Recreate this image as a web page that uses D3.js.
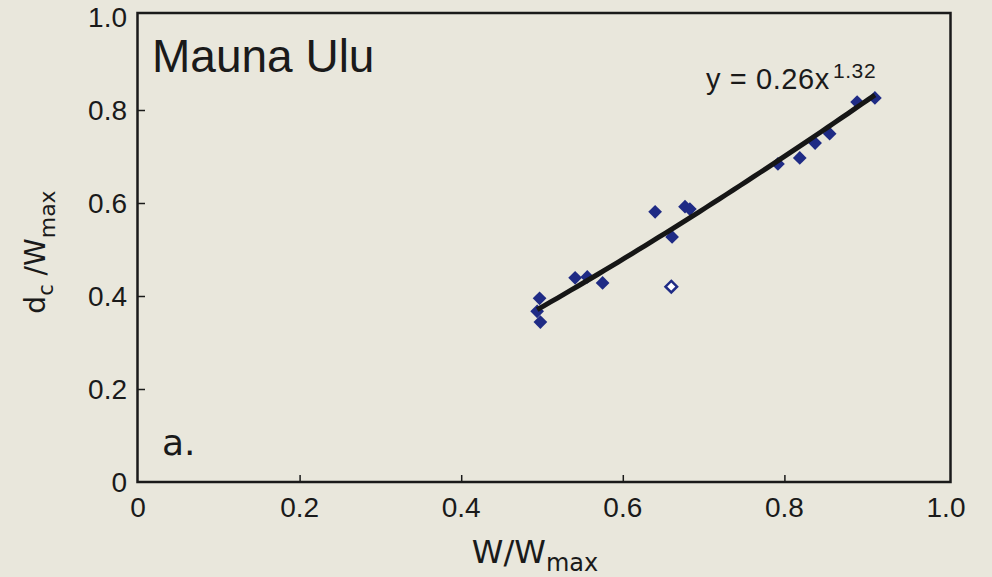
<!DOCTYPE html>
<html>
<head>
<meta charset="utf-8">
<script src="https://cdn.jsdelivr.net/npm/d3@7"></script>
<style>
  body { margin: 0; background: #e9e7dc; }
  text { font-family: "Liberation Sans", Arial, sans-serif; fill: #1a1a1a; }
</style>
</head>
<body>
<script>
var w = 992
var h = 577

// filled points (W/Wmax, dc/Wmax)
var xs = [0.497, 0.494, 0.498, 0.541, 0.556, 0.575, 0.640, 0.661, 0.677, 0.683, 0.792, 0.819, 0.838, 0.856, 0.890, 0.912]
var ys = [0.395, 0.367, 0.344, 0.439, 0.441, 0.428, 0.581, 0.527, 0.592, 0.587, 0.684, 0.697, 0.729, 0.749, 0.817, 0.826]
// open point
var openX = [0.660]
var openY = [0.420]

var tickVals = [0, 0.2, 0.4, 0.6, 0.8, 1.0]
var tickLabels = ["0", "0.2", "0.4", "0.6", "0.8", "1.0"]

// power fit y = a x^b (as drawn)
var fitA = 0.94
var fitB = 1.32

var x = d3.scaleLinear().domain([0, 1]).range([138, 946])
var y = d3.scaleLinear().domain([0, 1]).range([482, 17])

var svg = d3.select("body").append("svg")
    .attr("width", w)
    .attr("height", h)

svg.append("rect")
    .attr("width", w).attr("height", h)
    .attr("fill", "#e9e7dc")

// frame
svg.append("rect")
    .attr("x", x(0) - 0.5)
    .attr("y", y(1) - 4)
    .attr("width", x(1) - x(0) + 5)
    .attr("height", y(0) - y(1) + 4)
    .attr("fill", "none")
    .attr("stroke", "#1a1a1a")
    .attr("stroke-width", 2.5)

// inward ticks
var xAxis = d3.axisTop(x).tickValues(tickVals.slice(1, 5)).tickSize(7).tickFormat("")
svg.append("g").attr("transform", "translate(0," + y(0) + ")").call(xAxis)
    .call(function (g) { g.select(".domain").remove() })
    .selectAll("line").attr("stroke", "#1a1a1a").attr("stroke-width", 1.5)

var yAxis = d3.axisRight(y).tickValues(tickVals.slice(1, 5)).tickSize(7).tickFormat("")
svg.append("g").attr("transform", "translate(" + x(0) + ",0)").call(yAxis)
    .call(function (g) { g.select(".domain").remove() })
    .selectAll("line").attr("stroke", "#1a1a1a").attr("stroke-width", 1.5)

// tick labels
svg.selectAll(".xl").data(tickVals).enter().append("text")
    .attr("x", function (d) { return x(d) })
    .attr("y", 517)
    .attr("text-anchor", "middle")
    .style("font-size", "28px")
    .text(function (d, i) { return tickLabels[i] })

svg.selectAll(".yl").data(tickVals).enter().append("text")
    .attr("x", 127)
    .attr("y", function (d) { return y(d) + 10 })
    .attr("text-anchor", "end")
    .style("font-size", "28px")
    .text(function (d, i) { return tickLabels[i] })

// fit curve
var x0 = d3.min(xs), x1 = d3.max(xs)
var fitPts = d3.range(0, 51).map(function (i) {
    var xv = x0 + (x1 - x0) * i / 50
    return [xv, fitA * Math.pow(xv, fitB)]
})

// markers
var diamond = d3.symbol().type(d3.symbolDiamond2).size(120)
var pts = xs.map(function (d, i) { return [d, ys[i]] })

svg.selectAll(".pt").data(pts).enter().append("path")
    .attr("d", diamond)
    .attr("transform", function (d) { return "translate(" + x(d[0]) + "," + y(d[1]) + ")" })
    .attr("fill", "#1f2b85")

svg.selectAll(".op").data(openX).enter().append("path")
    .attr("d", d3.symbol().type(d3.symbolDiamond2).size(85))
    .attr("transform", function (d, i) { return "translate(" + x(d) + "," + y(openY[i]) + ")" })
    .attr("fill", "#ffffff")
    .attr("stroke", "#1f2b85")
    .attr("stroke-width", 2.5)

svg.append("path")
    .datum(fitPts)
    .attr("d", d3.line().x(function (d) { return x(d[0]) }).y(function (d) { return y(d[1]) }))
    .attr("fill", "none")
    .attr("stroke", "#161616")
    .attr("stroke-width", 5)

// texts
svg.append("text").attr("x", 152).attr("y", 72)
    .style("font-size", "46px").text("Mauna Ulu")

svg.append("text").attr("x", 162).attr("y", 455)
    .style("font-size", "36px").style("font-family", "'DejaVu Sans', sans-serif").text("a.")

var eq = svg.append("text").attr("x", 706).attr("y", 89)
    .style("font-size", "29px").style("letter-spacing", "0.6px")
eq.append("tspan").text("y = 0.26x")
eq.append("tspan").attr("dy", -11).attr("dx", 3).style("font-size", "21px").text("1.32")

var xl = svg.append("text").attr("x", 535).attr("y", 563)
    .attr("text-anchor", "middle").style("font-size", "32px")
    .style("font-family", "'DejaVu Sans', sans-serif")
xl.append("tspan").text("W/W")
xl.append("tspan").attr("dy", 8).style("font-size", "24px").text("max")

var yl = svg.append("text")
    .attr("transform", "translate(45,252) rotate(-90)")
    .attr("text-anchor", "middle").style("font-size", "28px")
    .style("font-family", "'DejaVu Sans', sans-serif")
yl.append("tspan").text("d")
yl.append("tspan").attr("dy", 8).style("font-size", "21px").text("c")
yl.append("tspan").attr("dy", -8).text(" /W")
yl.append("tspan").attr("dy", 10).style("font-size", "22px").text("max")
</script>
</body>
</html>
